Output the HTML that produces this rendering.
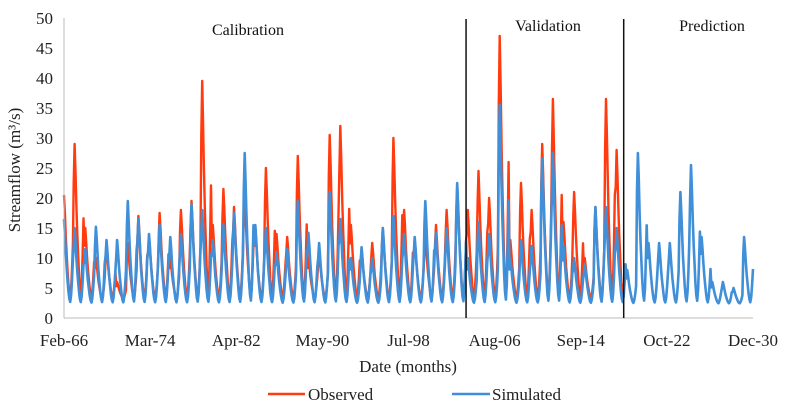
<!DOCTYPE html>
<html><head><meta charset="utf-8">
<style>
body{margin:0;background:#fff;}
svg{display:block;font-family:"Liberation Serif",serif;}
</style></head>
<body>
<svg id="chart" width="787" height="411" viewBox="0 0 787 411">
<g id="grid"></g>
<g id="series"></g>
<g id="axes"></g>
</svg>
<script>
const years=[];for(let y=1966;y<=2030;y++)years.push(y);
const obsPeaks=[20.5,29,15,10,12,6,12.5,17,13.5,17.5,10,18,19.5,39.5,15.5,21.5,18.5,21,15,25,14,13.5,27,10,11,30.5,32,15.5,11.5,12.5,15,30,18,13,13.5,15.5,18,22,18,24.5,20,47,13,22.5,18,29,36.5,16,21,10,18.5,36.5,28];
const simPeaks=[16.5,15,11.5,15.2,13,13,19.5,16.5,14,15.5,13.5,14,19,18,13,15.5,17.5,27.5,15.5,15,11,11.5,19.5,14.2,12.5,21,16.5,10,11.8,10,15,17,14,13.5,19.5,14.2,15,22.5,10,16,14,35.5,10,13,12,26.5,27.5,12,10,9,18.5,18.5,15,8,27.5,12.5,12.5,12.5,21,25.5,13.5,6,6,5,13.5];
const obsBase=[3.2];const simBase=[2.4];
const seasonShape=[0.75,1,0.82,0.6,0.42,0.28,0.15,0.06,0.02,0.1,0.28,0.52];
const obsEndMonth=[2018,9];
const yTicks=[0,5,10,15,20,25,30,35,40,45,50];
const xTickLabels=["Feb-66","Mar-74","Apr-82","May-90","Jul-98","Aug-06","Sep-14","Oct-22","Dec-30"];
const phaseDividers=[[2003,11],[2018,9]];
const phaseLabels=["Calibration","Validation","Prediction"];

const X0=64,X1=753,Y0=318,Y1=18;
const totalMonths=(2030-1966)*12+11-1;
const xs=m=>X0+(m/totalMonths)*(X1-X0);
const ys=v=>Y0-(v/50)*(Y0-Y1);
const monthIdx=(y,mo)=>(y-1966)*12+mo-1;
const NS="http://www.w3.org/2000/svg";
function mk(tag,attrs,parent,text){const e=document.createElementNS(NS,tag);for(const k in attrs)e.setAttribute(k,attrs[k]);if(text!==undefined)e.textContent=text;parent.appendChild(e);return e;}
const axes=document.getElementById('axes'),series=document.getElementById('series');

function buildSeries(peaks,base,endIdx){
  const pts=[];
  for(let m=0;m<=endIdx;m++){
    const abs=m+1;const yi=Math.floor(abs/12);const mo=abs%12;
    if(yi>=peaks.length)break;
    const v=base+(peaks[yi]-base)*seasonShape[mo];
    pts.push(xs(m).toFixed(1)+","+ys(v).toFixed(1));
  }
  return pts.join(" ");
}
const obsLine=mk('polyline',{points:buildSeries(obsPeaks,obsBase[0],monthIdx(obsEndMonth[0],obsEndMonth[1])),fill:'none',stroke:'#ff3b0f','stroke-width':2.4,'stroke-linejoin':'round'},series);


const simLine=mk('polyline',{points:buildSeries(simPeaks,simBase[0],totalMonths),fill:'none',stroke:'#3f8fd9','stroke-width':2.6,'stroke-linejoin':'round'},series);



const ya=mk('line',{x1:X0,y1:Y1,x2:X0,y2:Y0,stroke:'#bbb','stroke-width':1},axes);


const xa=mk('line',{x1:X0,y1:Y0,x2:X1,y2:Y0,stroke:'#bbb','stroke-width':1},axes);


yTicks.forEach(t=>{const e=mk('text',{x:53,y:ys(t)+6,'text-anchor':'end','font-size':17,fill:'#222'},axes,String(t));

});
xTickLabels.forEach((t,i)=>{const x=X0+i*(X1-X0)/(xTickLabels.length-1);const e=mk('text',{x:x,y:346,'text-anchor':'middle','font-size':17,fill:'#222'},axes,t);

});
phaseDividers.forEach(d=>{const x=xs(monthIdx(d[0],d[1]));const e=mk('line',{x1:x,y1:19,x2:x,y2:Y0,stroke:'#111','stroke-width':1.5},axes);

});
const phx=[248,548,712],phy=[35,31,31];
phaseLabels.forEach((t,i)=>{const e=mk('text',{x:phx[i],y:phy[i],'text-anchor':'middle','font-size':16,fill:'#111'},axes,t);

});
const yt=mk('text',{x:0,y:0,transform:'translate(20,170) rotate(-90)','text-anchor':'middle','font-size':17,fill:'#222'},axes,'Streamflow  (m³/s)');


const xt=mk('text',{x:408,y:372,'text-anchor':'middle','font-size':17,fill:'#222'},axes,'Date (months)');


const lg=mk('g',{},axes);


const l1=mk('line',{x1:268,y1:394,x2:305,y2:394,stroke:'#ff3b0f','stroke-width':2.5},lg);


const t1=mk('text',{x:308,y:400,'font-size':17,fill:'#222'},lg,'Observed');


const l2=mk('line',{x1:452,y1:394,x2:490,y2:394,stroke:'#3f8fd9','stroke-width':2.5},lg);


const t2=mk('text',{x:492,y:400,'font-size':17,fill:'#222'},lg,'Simulated');


</script>
</body></html>
